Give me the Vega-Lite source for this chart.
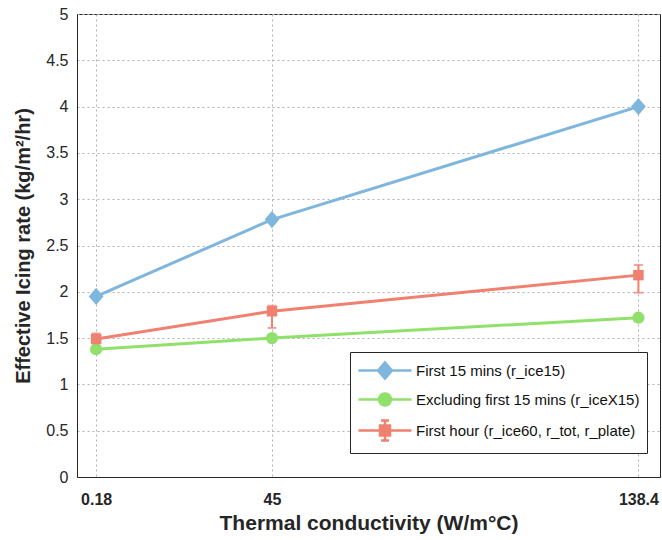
{
  "$schema": "https://vega.github.io/schema/vega-lite/v6.json",
  "autosize": {"type": "none"},
  "padding": {"left": 77, "top": 14, "right": 2, "bottom": 63},
  "width": 583,
  "height": 463,
  "background": "white",
  "config": {
    "font": "Liberation Sans",
    "view": {"stroke": "#262626", "strokeWidth": 1}
  },
  "data": {
    "values": [
      {"k": 0.18, "series": "First 15 mins (r_ice15)", "rate": 1.95},
      {"k": 45, "series": "First 15 mins (r_ice15)", "rate": 2.78},
      {"k": 138.4, "series": "First 15 mins (r_ice15)", "rate": 4.0},
      {"k": 0.18, "series": "Excluding first 15 mins (r_iceX15)", "rate": 1.38},
      {"k": 45, "series": "Excluding first 15 mins (r_iceX15)", "rate": 1.5},
      {"k": 138.4, "series": "Excluding first 15 mins (r_iceX15)", "rate": 1.72},
      {"k": 0.18, "series": "First hour  (r_ice60, r_tot, r_plate)", "rate": 1.49, "lo": 1.36, "hi": 1.55},
      {"k": 45, "series": "First hour  (r_ice60, r_tot, r_plate)", "rate": 1.79, "lo": 1.61, "hi": 1.85},
      {"k": 138.4, "series": "First hour  (r_ice60, r_tot, r_plate)", "rate": 2.18, "lo": 1.99, "hi": 2.29}
    ]
  },
  "encoding": {
    "x": {
      "field": "k", "type": "quantitative",
      "scale": {"domain": [-4.7, 143.9], "nice": false, "zero": false},
      "axis": {
        "title": "Thermal conductivity (W/m°C)",
        "values": [0.18, 45, 138.4],
        "labelExpr": "'' + datum.value",
        "labelFontWeight": "bold", "labelFontSize": 16, "labelColor": "#262626", "labelPadding": 14,
        "titleFontWeight": "bold", "titleFontSize": 21, "titleColor": "#262626", "titlePadding": 5,
        "domainColor": "#262626", "tickColor": "#262626", "tickSize": 0,
        "grid": true, "gridColor": "#b0b0b0", "gridDash": [2, 3], "gridWidth": 1
      }
    },
    "y": {
      "field": "rate", "type": "quantitative",
      "scale": {"domain": [0, 5], "nice": false},
      "axis": {
        "title": "Effective Icing rate (kg/m²/hr)",
        "values": [0, 0.5, 1, 1.5, 2, 2.5, 3, 3.5, 4, 4.5, 5],
        "labelExpr": "'' + datum.value",
        "labelFontSize": 16, "labelColor": "#262626", "labelPadding": 9,
        "titleFontWeight": "bold", "titleFontSize": 20, "titleColor": "#262626", "titlePadding": 12,
        "domainColor": "#262626", "tickColor": "#262626", "tickSize": 0,
        "grid": true, "gridColor": "#b0b0b0", "gridDash": [2, 3], "gridWidth": 1
      }
    },
    "color": {
      "field": "series", "type": "nominal",
      "scale": {
        "domain": ["First 15 mins (r_ice15)", "Excluding first 15 mins (r_iceX15)", "First hour  (r_ice60, r_tot, r_plate)"],
        "range": ["#7fb6dd", "#90e06c", "#f0806f"]
      },
      "legend": {
        "orient": "none", "legendX": 273, "legendY": 338,
        "title": null,
        "strokeColor": "#262626", "fillColor": "white",
        "padding": 7, "rowPadding": 4,
        "symbolSize": 400, "symbolStrokeWidth": 2.5, "symbolOpacity": 1,
        "labelFont": "Liberation Sans", "labelFontSize": 15, "labelColor": "#111", "labelOffset": 36, "labelLimit": 400,
        "encode": {
          "symbols": {
            "update": {
              "shape": {"signal": "datum.value == 'First 15 mins (r_ice15)' ? 'M-1,0L4.3,0M1.65,-0.8L2.35,0L1.65,0.8L0.95,0Z' : datum.value == 'Excluding first 15 mins (r_iceX15)' ? 'M-1,0L4.3,0M1.05,0A0.6,0.6 0 1,0 2.25,0A0.6,0.6 0 1,0 1.05,0Z' : 'M-1,0L4.3,0M1.15,-0.5L2.15,-0.5L2.15,0.5L1.15,0.5ZM1.25,-1L2.05,-1M1.65,-1L1.65,1M1.25,1L2.05,1'"},
              "fill": {"signal": "datum.value == 'First 15 mins (r_ice15)' ? '#7fb6dd' : datum.value == 'Excluding first 15 mins (r_iceX15)' ? '#90e06c' : '#f0806f'"},
              "stroke": {"signal": "datum.value == 'First 15 mins (r_ice15)' ? '#7fb6dd' : datum.value == 'Excluding first 15 mins (r_iceX15)' ? '#90e06c' : '#f0806f'"},
              "size": {"value": 400},
              "strokeWidth": {"value": 2.5},
              "opacity": {"value": 1},
              "fillOpacity": {"value": 1}
            }
          }
        }
      }
    }
  },
  "layer": [
    {
      "mark": {"type": "line", "strokeWidth": 3}
    },
    {
      "transform": [{"filter": "isValid(datum.lo)"}],
      "mark": {"type": "rule", "strokeWidth": 2, "color": "#f0806f"},
      "encoding": {"y": {"field": "lo", "type": "quantitative"}, "y2": {"field": "hi"}, "color": {"value": "#f0806f"}}
    },
    {
      "transform": [{"filter": "isValid(datum.lo)"}],
      "mark": {"type": "tick", "orient": "horizontal", "size": 9, "thickness": 2, "color": "#f0806f"},
      "encoding": {"y": {"field": "lo", "type": "quantitative"}, "color": {"value": "#f0806f"}}
    },
    {
      "transform": [{"filter": "isValid(datum.hi)"}],
      "mark": {"type": "tick", "orient": "horizontal", "size": 9, "thickness": 2, "color": "#f0806f"},
      "encoding": {"y": {"field": "hi", "type": "quantitative"}, "color": {"value": "#f0806f"}}
    },
    {
      "transform": [{"filter": "datum.series == 'First 15 mins (r_ice15)'"}],
      "mark": {"type": "point", "filled": true, "opacity": 1, "shape": "M0,-1L0.85,0L0,1L-0.85,0Z", "size": 300}
    },
    {
      "transform": [{"filter": "datum.series == 'Excluding first 15 mins (r_iceX15)'"}],
      "mark": {"type": "point", "filled": true, "opacity": 1, "shape": "circle", "size": 150}
    },
    {
      "transform": [{"filter": "isValid(datum.lo)"}],
      "mark": {"type": "point", "filled": true, "opacity": 1, "shape": "square", "size": 110}
    }
  ]
}
